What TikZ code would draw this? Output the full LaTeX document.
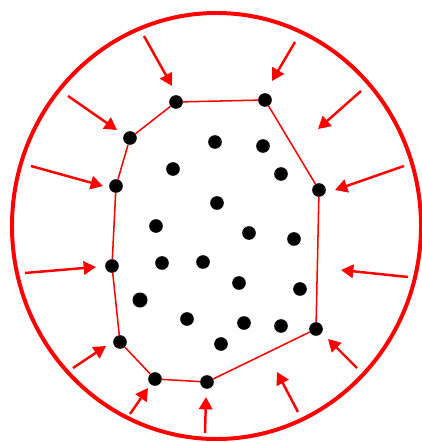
\documentclass[tikz,border=0pt]{standalone}
\usepackage{tikz}
\usetikzlibrary{arrows.meta}

\begin{document}
\begin{tikzpicture}[x=0.03cm, y=-0.03cm,
    dot/.style={circle, fill=black, inner sep=0pt, minimum size=0.41cm},
    hull/.style={red, line width=1.3pt},
    push/.style={red, line width=2.1pt, -{Triangle[length=0.37cm, width=0.4cm]}},
    rim/.style={red, line width=3.4pt}]
    \useasboundingbox (0,0) rectangle (422,442);

    % Outer boundary
    \draw[rim] (216.5,226) ellipse [x radius=6.135cm, y radius=6.39cm];

    % Hull points
    \node[dot] (h1) at (176,102) {};
    \node[dot] (h2) at (265,100) {};
    \node[dot] (h3) at (319,190) {};
    \node[dot] (h4) at (316,329) {};
    \node[dot] (h5) at (207,382) {};
    \node[dot] (h6) at (155,379) {};
    \node[dot] (h7) at (120,342) {};
    \node[dot] (h8) at (112,266) {};
    \node[dot] (h9) at (116,186) {};
    \node[dot] (h10) at (130,138) {};

    % Inner points
    \node[dot] (p1) at (215,142) {};
    \node[dot] (p2) at (263,146) {};
    \node[dot] (p3) at (173,169) {};
    \node[dot] (p4) at (281,174) {};
    \node[dot] (p5) at (217,203) {};
    \node[dot] (p6) at (156,226) {};
    \node[dot] (p7) at (249,233) {};
    \node[dot] (p8) at (294,239) {};
    \node[dot] (p9) at (162,263) {};
    \node[dot] (p10) at (203,262) {};
    \node[dot] (p11) at (239,283) {};
    \node[dot] (p12) at (300,289) {};
    \node[dot, minimum size=0.45cm] (p13) at (140,300) {};
    \node[dot] (p14) at (187,319) {};
    \node[dot] (p15) at (244,323) {};
    \node[dot] (p16) at (281,326) {};
    \node[dot] (p17) at (221,344) {};

    % Hull
    \draw[hull] (h1) -- (h2) -- (h3) -- (h4) -- (h5) -- (h6) -- (h7) -- (h8) -- (h9) -- (h10) -- (h1);

    % Shrinking arrows
    \coordinate (a1) at (144,36);   \coordinate (b1) at (172,86);
    \coordinate (a2) at (295,42);   \coordinate (b2) at (272,81);
    \coordinate (a3) at (68,96);    \coordinate (b3) at (117,130);
    \coordinate (a4) at (361,91);   \coordinate (b4) at (318,129);
    \coordinate (a5) at (31,166);   \coordinate (b5) at (103,186);
    \coordinate (a6) at (404,166);  \coordinate (b6) at (335,190);
    \coordinate (a7) at (25,273);   \coordinate (b7) at (96,267);
    \coordinate (a8) at (408,277);  \coordinate (b8) at (341,270);
    \coordinate (a9) at (73,368);   \coordinate (b9) at (106,346);
    \coordinate (a10) at (357,368); \coordinate (b10) at (328,339);
    \coordinate (a11) at (130,414); \coordinate (b11) at (148,388);
    \coordinate (a12) at (205,433); \coordinate (b12) at (206,397);
    \coordinate (a13) at (298,412); \coordinate (b13) at (277,372);
    \draw[push] (a1) -- (b1);
    \draw[push] (a2) -- (b2);
    \draw[push] (a3) -- (b3);
    \draw[push] (a4) -- (b4);
    \draw[push] (a5) -- (b5);
    \draw[push] (a6) -- (b6);
    \draw[push] (a7) -- (b7);
    \draw[push] (a8) -- (b8);
    \draw[push] (a9) -- (b9);
    \draw[push] (a10) -- (b10);
    \draw[push] (a11) -- (b11);
    \draw[push] (a12) -- (b12);
    \draw[push] (a13) -- (b13);
\end{tikzpicture}
\end{document}
